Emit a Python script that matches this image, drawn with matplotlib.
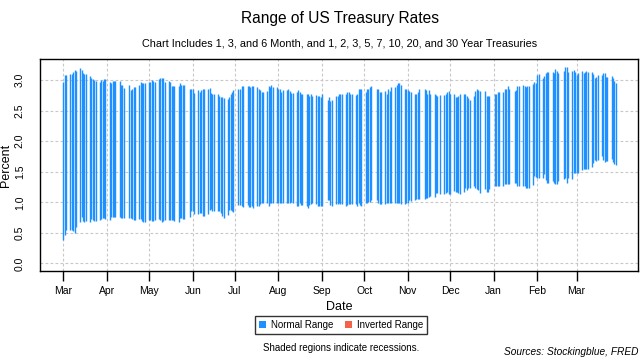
import numpy as np
import pandas as pd
import matplotlib
matplotlib.use('Agg')
import matplotlib.pyplot as plt
import matplotlib.dates as mdates
from matplotlib.patches import Patch

plt.rcParams['font.family'] = ['Liberation Sans', 'DejaVu Sans']

# Handelstage (Anleihemarkt geschlossen an diesen Tagen)
holidays = ['2017-04-14', '2017-05-29', '2017-07-04', '2017-09-04', '2017-10-09',
            '2017-11-10', '2017-11-23', '2017-12-25', '2018-01-01', '2018-01-15',
            '2018-02-19']
dates = pd.bdate_range('2017-03-01', '2018-03-29', freq='C', holidays=holidays)
month_ticks = pd.date_range('2017-03-01', '2018-03-01', freq='MS')

# Tageshoch (hoechster Zins) pro Monat
hi_2017_03 = [2.97, 3.08, 3.08, 3.10, 3.10, 3.14, 3.17, 3.15, 3.19, 3.16, 3.12, 3.10, 3.10,
              3.07, 3.04, 3.01, 3.00, 2.99, 2.97, 3.00, 2.99, 3.02, 3.01]
hi_2017_04 = [2.97, 2.96, 2.98, 2.98, 2.99, 2.98, 2.92, 2.92, 2.87, 2.92, 2.83, 2.86, 2.88,
              2.88, 2.92, 2.97, 2.96, 2.95, 2.95]
hi_2017_05 = [2.97, 2.97, 3.00, 2.98, 2.97, 3.02, 3.03, 3.03, 3.03, 2.97, 2.99, 2.97, 2.90,
              2.90, 2.90, 2.90, 2.95, 2.92, 2.92, 2.92, 2.86, 2.86]
hi_2017_06 = [2.86, 2.79, 2.84, 2.81, 2.84, 2.85, 2.85, 2.86, 2.87, 2.79, 2.78, 2.77, 2.78,
              2.74, 2.72, 2.72, 2.70, 2.69, 2.73, 2.77, 2.80, 2.83]
hi_2017_07 = [2.85, 2.85, 2.90, 2.91, 2.91, 2.91, 2.88, 2.91, 2.90, 2.88, 2.85, 2.83, 2.80,
              2.80, 2.82, 2.90, 2.88, 2.92, 2.88, 2.89]
hi_2017_08 = [2.86, 2.85, 2.81, 2.84, 2.84, 2.85, 2.82, 2.79, 2.79, 2.81, 2.84, 2.80, 2.77,
              2.77, 2.77, 2.78, 2.74, 2.78, 2.74, 2.76, 2.74, 2.74, 2.73]
hi_2017_09 = [2.77, 2.68, 2.72, 2.66, 2.67, 2.74, 2.74, 2.77, 2.78, 2.77, 2.78, 2.80, 2.81,
              2.78, 2.78, 2.76, 2.77, 2.85, 2.86, 2.85]
hi_2017_10 = [2.81, 2.86, 2.86, 2.88, 2.90, 2.86, 2.85, 2.80, 2.80, 2.82, 2.78, 2.85, 2.82,
              2.88, 2.88, 2.92, 2.95, 2.95, 2.92, 2.86, 2.86]
hi_2017_11 = [2.84, 2.82, 2.81, 2.78, 2.77, 2.80, 2.86, 2.86, 2.83, 2.77, 2.83, 2.78, 2.77,
              2.75, 2.74, 2.75, 2.76, 2.77, 2.80, 2.82]
hi_2017_12 = [2.77, 2.77, 2.73, 2.72, 2.74, 2.77, 2.77, 2.78, 2.74, 2.70, 2.67, 2.74, 2.82,
              2.86, 2.84, 2.82, 2.82, 2.74, 2.74, 2.74]
hi_2018_01 = [2.78, 2.77, 2.80, 2.80, 2.80, 2.85, 2.86, 2.90, 2.85, 2.82, 2.84, 2.90, 2.90,
              2.92, 2.90, 2.89, 2.90, 2.90, 2.93, 2.97, 2.96]
hi_2018_02 = [3.08, 3.10, 3.03, 3.06, 3.11, 3.14, 3.14, 3.14, 3.11, 3.18, 3.15, 3.12, 3.15,
              3.22, 3.22, 3.14, 3.15, 3.17, 3.14]
hi_2018_03 = [3.08, 3.12, 3.15, 3.12, 3.13, 3.15, 3.13, 3.14, 3.10, 3.04, 3.05, 3.08, 3.08,
              3.11, 3.11, 3.05, 3.05, 3.07, 3.03, 2.99, 2.96]

# Tagestief (niedrigster Zins) pro Monat
lo_2017_03 = [0.38, 0.46, 0.55, 0.55, 0.54, 0.53, 0.49, 0.59, 0.68, 0.76, 0.70, 0.67, 0.70,
              0.68, 0.73, 0.71, 0.70, 0.70, 0.71, 0.72, 0.74, 0.74, 0.72]
lo_2017_04 = [0.71, 0.76, 0.76, 0.76, 0.76, 0.76, 0.74, 0.74, 0.74, 0.75, 0.74, 0.73, 0.71,
              0.71, 0.72, 0.72, 0.70, 0.68, 0.67]
lo_2017_05 = [0.71, 0.71, 0.70, 0.70, 0.71, 0.73, 0.71, 0.68, 0.69, 0.71, 0.71, 0.71, 0.71,
              0.71, 0.69, 0.68, 0.75, 0.75, 0.72, 0.72, 0.76, 0.85]
lo_2017_06 = [0.85, 0.81, 0.81, 0.82, 0.83, 0.78, 0.78, 0.81, 0.87, 0.89, 0.85, 0.85, 0.85,
              0.86, 0.82, 0.78, 0.75, 0.79, 0.87, 0.87, 0.86, 0.84]
lo_2017_07 = [0.95, 0.95, 0.94, 0.93, 0.95, 0.93, 0.93, 0.94, 0.91, 0.94, 0.94, 0.97, 0.98,
              0.99, 0.99, 0.94, 0.99, 0.99, 0.99, 0.99]
lo_2017_08 = [0.99, 0.98, 0.98, 0.99, 0.98, 0.99, 0.99, 1.01, 0.98, 0.94, 0.94, 0.98, 0.96,
              0.96, 0.94, 0.91, 0.96, 0.97, 0.98, 0.97, 0.94, 0.94, 0.94]
lo_2017_09 = [0.94, 1.03, 1.03, 0.96, 0.94, 0.97, 0.97, 0.98, 0.97, 0.97, 0.94, 0.96, 0.97,
              0.97, 0.97, 0.97, 0.94, 0.98, 0.96, 0.94]
lo_2017_10 = [0.99, 0.99, 1.01, 1.01, 1.03, 1.03, 0.99, 0.97, 0.97, 0.97, 0.98, 0.98, 0.99,
              0.99, 0.99, 0.99, 0.99, 0.98, 0.97, 0.97, 0.98]
lo_2017_11 = [0.99, 1.04, 1.02, 1.04, 1.05, 1.05, 1.06, 1.05, 1.07, 1.07, 1.09, 1.10, 1.08,
              1.15, 1.15, 1.13, 1.14, 1.15, 1.16, 1.13]
lo_2017_12 = [1.13, 1.19, 1.17, 1.16, 1.15, 1.13, 1.17, 1.23, 1.20, 1.23, 1.24, 1.26, 1.24,
              1.21, 1.20, 1.15, 1.21, 1.17, 1.17, 1.21]
lo_2018_01 = [1.27, 1.27, 1.27, 1.26, 1.26, 1.30, 1.30, 1.30, 1.30, 1.32, 1.31, 1.27, 1.27,
              1.26, 1.26, 1.23, 1.23, 1.23, 1.28, 1.43, 1.41]
lo_2018_02 = [1.39, 1.39, 1.39, 1.47, 1.36, 1.31, 1.31, 1.34, 1.32, 1.30, 1.30, 1.34, 1.38,
              1.39, 1.32, 1.39, 1.38, 1.48, 1.48]
lo_2018_03 = [1.48, 1.48, 1.52, 1.55, 1.55, 1.55, 1.55, 1.58, 1.64, 1.69, 1.68, 1.69, 1.75,
              1.69, 1.66, 1.68, 1.68, 1.70, 1.66, 1.63, 1.61]

highs = (hi_2017_03 + hi_2017_04 + hi_2017_05 + hi_2017_06 + hi_2017_07 + hi_2017_08 +
         hi_2017_09 + hi_2017_10 + hi_2017_11 + hi_2017_12 + hi_2018_01 + hi_2018_02 + hi_2018_03)
lows = (lo_2017_03 + lo_2017_04 + lo_2017_05 + lo_2017_06 + lo_2017_07 + lo_2017_08 +
        lo_2017_09 + lo_2017_10 + lo_2017_11 + lo_2017_12 + lo_2018_01 + lo_2018_02 + lo_2018_03)
highs = np.array(highs)
lows = np.array(lows)

normal_color = '#1e90ff'
inverted_color = '#f4624a'

fig = plt.figure(figsize=(6.4, 3.6), dpi=100)
ax = fig.add_axes([0.0625, 0.247, 0.935, 0.589])

ax.vlines(dates, lows, highs, color=normal_color, linewidth=1.0)

ax.set_xlim(pd.Timestamp('2017-02-12 10:00'), pd.Timestamp('2018-04-14'))
ax.set_ylim(-0.126, 3.344)
ax.set_yticks(np.arange(0, 3.01, 0.5))
ax.yaxis.set_major_formatter(matplotlib.ticker.FormatStrFormatter('%.1f'))
ax.set_xticks(month_ticks)
ax.xaxis.set_major_formatter(mdates.DateFormatter('%b'))

ax.grid(True, color='#c8c8c8', linestyle=(0, (2.5, 2)), linewidth=0.8)
ax.set_axisbelow(True)
for s in ax.spines.values():
    s.set_color('black')
    s.set_linewidth(1.0)

ax.tick_params(axis='x', length=7, width=1, labelsize=7.5, pad=4)
ax.tick_params(axis='y', length=0, labelsize=7.5, pad=11)
for lbl in ax.get_yticklabels():
    lbl.set_rotation(90)
    lbl.set_va('center')

ax.set_xlabel('Date', fontsize=9, labelpad=3)
ax.set_ylabel('Percent', fontsize=9, labelpad=2)

fig.text(0.531, 0.95, 'Range of US Treasury Rates', ha='center', va='center', fontsize=11.2)
fig.text(0.531, 0.878, 'Chart Includes 1, 3, and 6 Month, and 1, 2, 3, 5, 7, 10, 20, and 30 Year Treasuries',
         ha='center', va='center', fontsize=7.8)

handles = [Patch(facecolor=normal_color, edgecolor='none', label='Normal Range'),
           Patch(facecolor=inverted_color, edgecolor='none', label='Inverted Range')]
leg = fig.legend(handles=handles, loc='center', bbox_to_anchor=(0.533, 0.097), ncol=2,
                 fontsize=7, frameon=True, fancybox=False, edgecolor='black',
                 handlelength=0.7, handleheight=0.7, handletextpad=0.5, columnspacing=1.2,
                 borderpad=0.4)
leg.get_frame().set_linewidth(1.0)

fig.text(0.533, 0.033, 'Shaded regions indicate recessions.', ha='center', va='center', fontsize=7)
fig.text(0.998, 0.022, 'Sources: Stockingblue, FRED', ha='right', va='center', fontsize=7.3,
         style='italic')

fig.savefig('out.png', dpi=100)
